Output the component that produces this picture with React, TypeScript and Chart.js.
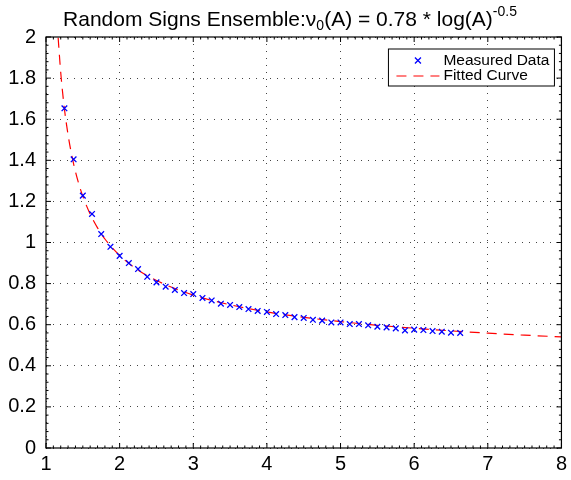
import React, { useEffect, useRef } from "react";
import { Chart, registerables } from "chart.js";

Chart.register(...registerables);

// Measured data (A values and nu0 values)
const measuredA = [
  1.25, 1.375, 1.5, 1.625, 1.75, 1.875, 2.0, 2.125, 2.25, 2.375, 2.5,
  2.625, 2.75, 2.875, 3.0, 3.125, 3.25, 3.375, 3.5, 3.625, 3.75, 3.875,
  4.0, 4.125, 4.25, 4.375, 4.5, 4.625, 4.75, 4.875, 5.0, 5.125, 5.25,
  5.375, 5.5, 5.625, 5.75, 5.875, 6.0, 6.125, 6.25, 6.375, 6.5, 6.625,
];
const measuredV = [
  1.653, 1.405, 1.228, 1.139, 1.041, 0.979, 0.935, 0.9, 0.871, 0.833,
  0.806, 0.785, 0.769, 0.754, 0.749, 0.73, 0.718, 0.702, 0.696, 0.686,
  0.676, 0.667, 0.662, 0.652, 0.647, 0.637, 0.633, 0.624, 0.62, 0.611,
  0.611, 0.603, 0.603, 0.597, 0.59, 0.587, 0.582, 0.572, 0.576, 0.574,
  0.569, 0.566, 0.561, 0.56,
];

// Fitted curve
const fitA = [
  1.165, 1.2, 1.25, 1.3, 1.35, 1.4, 1.45, 1.5, 1.6, 1.7, 1.8, 2.0, 2.25,
  2.5, 3.0, 3.5, 4.0, 4.5, 5.0, 5.5, 6.0, 6.5, 7.0, 7.5, 8.0,
];
const fitV = [
  1.996, 1.827, 1.651, 1.523, 1.424, 1.345, 1.28, 1.225, 1.138, 1.071,
  1.017, 0.937, 0.866, 0.815, 0.744, 0.697, 0.662, 0.636, 0.615, 0.597,
  0.583, 0.57, 0.559, 0.549, 0.541,
];

const xTickLabels = ["1", "2", "3", "4", "5", "6", "7", "8"];
const yTickLabels = ["0", "0.2", "0.4", "0.6", "0.8", "1", "1.2", "1.4", "1.6", "1.8", "2"];

const FONT = "'Liberation Sans', Arial, Helvetica, sans-serif";

const decorPlugin = {
  id: "decor",
  afterDraw(chart: any) {
    const ctx = chart.ctx as CanvasRenderingContext2D;
    const { left, right, top, bottom } = chart.chartArea;
    const xs = chart.scales.x;
    const ys = chart.scales.y;
    ctx.save();
    // frame
    ctx.strokeStyle = "#000";
    ctx.lineWidth = 1.2;
    ctx.setLineDash([]);
    ctx.strokeRect(left, top, right - left, bottom - top);
    // ticks
    ctx.lineWidth = 1;
    ctx.beginPath();
    for (let v = 1; v <= 8.0001; v += 0.1) {
      const px = xs.getPixelForValue(v);
      const major = Math.abs(v - Math.round(v)) < 1e-6;
      const len = major ? 5 : 2.5;
      ctx.moveTo(px, bottom);
      ctx.lineTo(px, bottom - len);
      ctx.moveTo(px, top);
      ctx.lineTo(px, top + len);
    }
    for (let v = 0; v <= 2.0001; v += 0.04) {
      const py = ys.getPixelForValue(v);
      const major = Math.abs(v / 0.2 - Math.round(v / 0.2)) < 1e-6;
      const len = major ? 5 : 2.5;
      ctx.moveTo(left, py);
      ctx.lineTo(left + len, py);
      ctx.moveTo(right, py);
      ctx.lineTo(right - len, py);
    }
    ctx.stroke();

    // title
    const base = 26;
    const big = `21px ${FONT}`;
    const small = `14px ${FONT}`;
    const parts: [string, string, number][] = [
      ["Random Signs Ensemble:\u03bd", big, 0],
      ["0", small, 4],
      ["(A) = 0.78 * log(A)", big, 0],
      ["-0.5", small, -10],
    ];
    let total = 0;
    for (const [t, f] of parts) {
      ctx.font = f;
      total += ctx.measureText(t).width;
    }
    let x = 290 - total / 2;
    ctx.fillStyle = "#000";
    ctx.textBaseline = "alphabetic";
    ctx.textAlign = "left";
    for (const [t, f, dy] of parts) {
      ctx.font = f;
      ctx.fillText(t, x, base + dy);
      x += ctx.measureText(t).width;
    }

    // legend
    const lx = right - 173;
    const ly = top + 12;
    const lw = 166;
    const lh = 37;
    ctx.fillStyle = "#fff";
    ctx.fillRect(lx, ly, lw, lh);
    ctx.strokeStyle = "#000";
    ctx.lineWidth = 1;
    ctx.strokeRect(lx, ly, lw, lh);
    // marker
    const mx = lx + 29.5;
    const my = ly + 11.5;
    ctx.strokeStyle = "#0000ff";
    ctx.lineWidth = 1.3;
    ctx.beginPath();
    ctx.moveTo(mx - 3, my - 3);
    ctx.lineTo(mx + 3, my + 3);
    ctx.moveTo(mx - 3, my + 3);
    ctx.lineTo(mx + 3, my - 3);
    ctx.stroke();
    // dashed line
    ctx.strokeStyle = "#ff0000";
    ctx.lineWidth = 1.2;
    ctx.setLineDash([10, 7]);
    ctx.beginPath();
    ctx.moveTo(lx + 8, ly + 27);
    ctx.lineTo(lx + 51, ly + 27);
    ctx.stroke();
    ctx.setLineDash([]);
    ctx.fillStyle = "#000";
    ctx.font = `15.5px ${FONT}`;
    ctx.textBaseline = "middle";
    ctx.fillText("Measured Data", lx + 55, ly + 11.5);
    ctx.fillText("Fitted Curve", lx + 55, ly + 26.5);
    ctx.restore();
  },
};

export default function App() {
  const ref = useRef<HTMLCanvasElement>(null);
  useEffect(() => {
    document.body.style.margin = "0";
    const canvas = ref.current!;
    const chart = new Chart(canvas, {
      type: "line",
      data: {
        datasets: [
          {
            label: "Fitted Curve",
            data: fitA.map((a, i) => ({ x: a, y: fitV[i] })),
            borderColor: "#ff0000",
            borderWidth: 1.2,
            borderDash: [10, 7],
            pointRadius: 0,
            fill: false,
            cubicInterpolationMode: "monotone",
            order: 2,
          },
          {
            label: "Measured Data",
            data: measuredA.map((a, i) => ({ x: a, y: measuredV[i] })),
            showLine: false,
            pointStyle: "crossRot",
            pointRadius: 4,
            pointBorderWidth: 1.3,
            borderColor: "#0000ff",
            backgroundColor: "#0000ff",
            order: 1,
          },
        ],
      },
      options: {
        responsive: false,
        animation: false,
        devicePixelRatio: 1,
        layout: { padding: { top: 37, right: 6, left: 0, bottom: 0 } },
        plugins: {
          legend: { display: false },
          title: { display: false },
          tooltip: { enabled: false },
        },
        scales: {
          x: {
            type: "linear",
            min: 1,
            max: 8,
            afterFit: (s: any) => {
              s.height = 32;
            },
            ticks: {
              stepSize: 1,
              padding: 4,
              color: "#000",
              font: { family: FONT, size: 20 },
              callback: (v: any) => xTickLabels[Math.round(Number(v)) - 1] ?? "",
            },
            grid: { color: "#444", lineWidth: 1, drawTicks: false },
            border: { display: false, dash: [1, 6] },
          },
          y: {
            type: "linear",
            min: 0,
            max: 2,
            afterFit: (s: any) => {
              s.width = 46;
            },
            ticks: {
              stepSize: 0.2,
              padding: 10,
              color: "#000",
              font: { family: FONT, size: 20 },
              callback: (v: any) => yTickLabels[Math.round(Number(v) / 0.2)] ?? "",
            },
            grid: { color: "#444", lineWidth: 1, drawTicks: false },
            border: { display: false, dash: [1, 6] },
          },
        },
      },
      plugins: [decorPlugin],
    });
    return () => chart.destroy();
  }, []);
  return <canvas ref={ref} width={571} height={480} />;
}
